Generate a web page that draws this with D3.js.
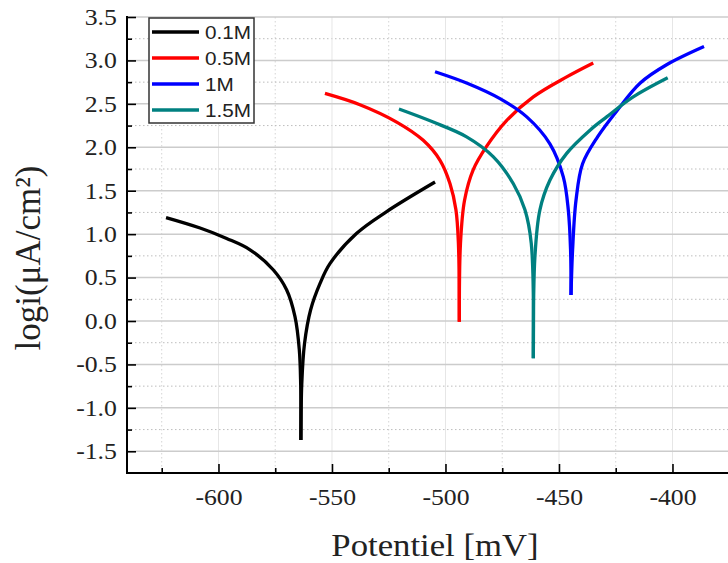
<!DOCTYPE html>
<html>
<head>
<meta charset="utf-8">
<script src="https://cdn.jsdelivr.net/npm/d3@7"></script>
<style>
  body { margin: 0; background: #fff; }
  svg { display: block; }
  .tick text { font-family: 'Liberation Serif', 'Times New Roman', serif; font-size: 23px; fill: #222; }
</style>
</head>
<body>
<svg id="chart" width="728" height="563"></svg>
<script>
// series: [potential mV, log i]
const c01 = [[-623.1,1.19],[-608.1,1.07],[-596.4,0.95],[-586.1,0.82],[-575.9,0.59],[-570.0,0.36],[-566.3,0.05],[-564.4,-0.33],[-563.8,-0.72],[-563.7,-1.37],
  [-563.3,-0.72],[-562.1,-0.26],[-559.4,0.13],[-555.3,0.43],[-550.9,0.66],[-539.1,1.01],[-525.9,1.26],[-504.6,1.60]];
const c05 = [[-553.1,2.62],[-537.7,2.49],[-521.5,2.29],[-509.8,2.08],[-502.4,1.85],[-498.0,1.58],[-495.4,1.28],[-494.3,0.89],[-493.9,-0.01],
  [-493.4,0.89],[-491.6,1.39],[-487.8,1.74],[-481.9,2.01],[-473.0,2.31],[-461.3,2.58],[-446.6,2.81],[-434.9,2.97]];
const c1 = [[-504.6,2.87],[-490.7,2.74],[-476.0,2.56],[-464.2,2.35],[-454.0,2.04],[-448.1,1.66],[-445.9,1.28],[-444.9,0.82],[-444.7,0.30],
  [-444.0,0.82],[-442.5,1.39],[-439.6,1.81],[-433.0,2.12],[-424.2,2.43],[-414.2,2.74],[-402.6,2.95],[-386.1,3.16]];
const c15 = [[-520.5,2.44],[-505.4,2.29],[-490.7,2.12],[-478.9,1.89],[-470.1,1.58],[-465.0,1.28],[-462.2,0.89],[-461.3,-0.43],
  [-460.6,0.74],[-458.4,1.28],[-454.0,1.62],[-446.6,1.93],[-436.2,2.20],[-429.0,2.35],[-417.3,2.58],[-402.1,2.80]];

const seriesNames = ["0.1M", "0.5M", "1M", "1.5M"];
const seriesData = [c01, c05, c1, c15];
const seriesColors = ["#000000", "#ff0000", "#0000ff", "#008080"];

const xTicks = [-600, -550, -500, -450, -400];
const yTicks = [-1.5, -1.0, -0.5, 0.0, 0.5, 1.0, 1.5, 2.0, 2.5, 3.0, 3.5];

const svg = d3.select("#chart");
const mLeft = 127, mBottom = 473, mTop = 17;
const stretch = 1.12; // the original text is drawn a little wide

const x = d3.scaleLinear().domain([-640.3, -360]).range([mLeft, mLeft + 280.3 * 2.27]);
const y = d3.scaleLinear().domain([-1.75, 3.5]).range([mBottom, mTop]);

const xMinor = d3.range(-625, -360, 50);
const yMinor = d3.range(-1.25, 3.5, 0.5);

// grid
const grid = svg.append("g");
grid.selectAll(".gxm").data(xMinor).enter().append("line")
  .attr("x1", d => x(d)).attr("x2", d => x(d)).attr("y1", mTop).attr("y2", mBottom)
  .attr("stroke", "#d4d4d4").attr("stroke-width", 1).attr("stroke-dasharray", "1.5,2.5");
grid.selectAll(".gym").data(yMinor).enter().append("line")
  .attr("x1", mLeft).attr("x2", 728).attr("y1", d => y(d)).attr("y2", d => y(d))
  .attr("stroke", "#bdbdbd").attr("stroke-width", 1).attr("stroke-dasharray", "1.5,2.5");
grid.selectAll(".gx").data(xTicks).enter().append("line")
  .attr("x1", d => x(d)).attr("x2", d => x(d)).attr("y1", mTop).attr("y2", mBottom)
  .attr("stroke", "#e6e6e6").attr("stroke-width", 1);
grid.selectAll(".gy").data(yTicks).enter().append("line")
  .attr("x1", mLeft).attr("x2", 728).attr("y1", d => y(d)).attr("y2", d => y(d))
  .attr("stroke", "#cccccc").attr("stroke-width", 1.5);

// curves, split at the minimum so each branch is smooth
seriesData.forEach((s, i) => {
  const k = d3.minIndex(s, d => d[1]);
  const branches = [s.slice(0, k + 1), s.slice(k)];
  branches.forEach(b => {
    svg.append("path")
      .attr("d", d3.line().x(d => x(d[0])).y(d => y(d[1])).curve(d3.curveCatmullRom.alpha(0.5))(b))
      .attr("fill", "none")
      .attr("stroke", seriesColors[i])
      .attr("stroke-width", 3.3)
      .attr("stroke-linejoin", "round");
  });
});

// axes
const xAx = svg.append("g").attr("transform", `translate(0,${mBottom})`)
  .call(d3.axisBottom(x).tickValues(xTicks).tickSize(-9).tickPadding(16).tickFormat(d => String(d)));
svg.append("g").attr("transform", `translate(0,${mBottom})`)
  .call(d3.axisBottom(x).tickValues(xMinor).tickSize(-5).tickFormat(""));
const yAx = svg.append("g").attr("transform", `translate(${mLeft},0)`)
  .call(d3.axisLeft(y).tickValues(yTicks).tickSize(-9).tickPadding(9).tickFormat(d => d.toFixed(1)));
svg.append("g").attr("transform", `translate(${mLeft},0)`)
  .call(d3.axisLeft(y).tickValues(yMinor).tickSize(-5).tickFormat(""));

xAx.selectAll(".tick text").attr("transform", `scale(${stretch},1)`);
yAx.selectAll(".tick text").attr("transform", `scale(${stretch},1)`);

svg.selectAll(".domain").remove();
svg.append("line").attr("x1", mLeft).attr("x2", 728).attr("y1", mBottom).attr("y2", mBottom)
  .attr("stroke", "#000").attr("stroke-width", 2);
svg.append("line").attr("x1", mLeft).attr("x2", mLeft).attr("y1", mTop - 1).attr("y2", mBottom + 1)
  .attr("stroke", "#000").attr("stroke-width", 2);
svg.selectAll(".tick line").attr("stroke", "#000").attr("stroke-width", 1.6);

// axis titles
svg.append("text").attr("transform", `translate(435,556) scale(${stretch},1)`).attr("text-anchor", "middle")
  .attr("font-family", "'Liberation Serif', 'Times New Roman', serif").attr("font-size", 31).attr("fill", "#222")
  .text("Potentiel [mV]");
svg.append("text").attr("transform", "translate(40,258) rotate(-90)").attr("text-anchor", "middle")
  .attr("font-family", "'Liberation Serif', 'Times New Roman', serif").attr("font-size", 35).attr("fill", "#222")
  .text("logi(μA/cm²)");

// legend
const lg = svg.append("g");
lg.append("rect").attr("x", 149).attr("y", 18).attr("width", 105).attr("height", 105)
  .attr("fill", "#fff").attr("stroke", "#333").attr("stroke-width", 1.5);
seriesNames.forEach((n, i) => {
  const yy = 32 + i * 26;
  lg.append("line").attr("x1", 152).attr("x2", 199).attr("y1", yy).attr("y2", yy)
    .attr("stroke", seriesColors[i]).attr("stroke-width", 3.3);
  lg.append("text").attr("transform", `translate(205,${yy + 6.5}) scale(${stretch},1)`)
    .attr("font-family", "'Liberation Sans', Arial, sans-serif").attr("font-size", 18.5).attr("fill", "#222")
    .text(n);
});
</script>
</body>
</html>
